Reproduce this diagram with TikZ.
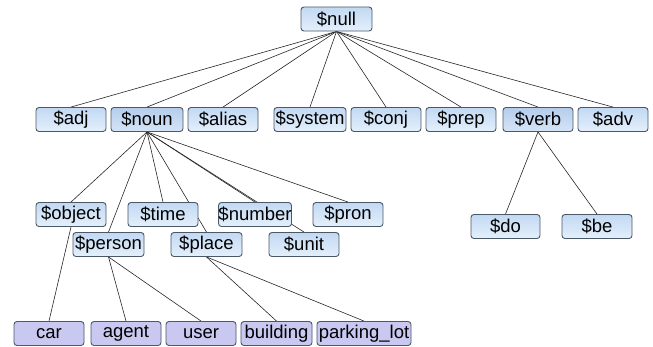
\documentclass[tikz,border=0pt]{standalone}
\usepackage{fontspec}
\setmainfont{Liberation Sans}
\usetikzlibrary{backgrounds}
\definecolor{bordc}{HTML}{4A5868}
\definecolor{bluetop}{HTML}{C2D9F3}
\definecolor{bluebot}{HTML}{E4EFFB}
\definecolor{darktop}{HTML}{B4CDEC}
\definecolor{darkbot}{HTML}{D6E5F7}
\definecolor{leaffill}{HTML}{C8C8F0}
\tikzset{
  box/.style={draw=bordc, line width=0.9pt, rounded corners=3pt,
    top color=bluetop, bottom color=bluebot,
    minimum height=24pt, inner sep=0pt,
    font=\fontsize{18.5}{19}\selectfont, text=black},
  hibox/.style={box, top color=darktop, bottom color=darkbot},
  leafbox/.style={box, fill=leaffill, top color=leaffill, bottom color=leaffill},
  edge/.style={draw=black!85, line width=0.6pt}
}
\begin{document}
\begin{tikzpicture}[x=1pt,y=-1pt]
\useasboundingbox (0,0) rectangle (653,346);
% root
\node[box, minimum width=71pt] (null) at (336.5,19) {\$null};
% level 1
\node[box, minimum width=70pt] (adj) at (71,119.5) {\$adj};
\node[hibox, minimum width=72pt] (noun) at (147,119.5) {\$noun};
\node[box, minimum width=70pt] (alias) at (223,119.5) {\$alias};
\node[box, minimum width=72pt] (system) at (310,119.5) {\$system};
\node[box, minimum width=70pt] (conj) at (386,119.5) {\$conj};
\node[box, minimum width=70pt] (prep) at (461,119.5) {\$prep};
\node[hibox, minimum width=70pt] (verb) at (538,119.5) {\$verb};
\node[box, minimum width=70pt] (adv) at (613,119.5) {\$adv};
% level 2 (noun)
\node[box, minimum width=70pt] (object) at (71,214.5) {\$object};
\node[box, minimum width=70pt] (time) at (163,214.5) {\$time};
\node[box, minimum width=70pt] (number) at (255,214.5) {\$number};
\node[box, minimum width=70pt] (pron) at (348,214.5) {\$pron};
\node[box, minimum width=71pt] (person) at (108.5,244.5) {\$person};
\node[box, minimum width=71pt] (place) at (206.5,244.5) {\$place};
\node[box, minimum width=70pt] (unit) at (304,244.5) {\$unit};
% level 2 (verb)
\node[box, minimum width=69pt] (do) at (505.5,226.5) {\$do};
\node[box, minimum width=70pt] (be) at (597,226.5) {\$be};
% leaves
\node[leafbox, minimum width=70pt] (car) at (49,333.5) {car};
\node[leafbox, minimum width=70pt] (agent) at (126,333.5) {agent};
\node[leafbox, minimum width=70pt] (user) at (201,333.5) {user};
\node[leafbox, minimum width=71pt] (building) at (276.5,333.5) {building};
\node[leafbox, minimum width=94pt] (parking) at (364,333.5) {parking\_lot};
% edges
\begin{pgfonlayer}{background}
\foreach \c in {adj,noun,alias,system,conj,prep,verb,adv}
  \draw[edge] (null.south) -- (\c.north);
\foreach \c in {object,person,time,place,number,unit,pron}
  \draw[edge] (noun.south) -- (\c.north);
\draw[edge] (verb.south) -- (do.north);
\draw[edge] (verb.south) -- (be.north);
\draw[edge] (object.south) -- (car.north);
\draw[edge] (person.south) -- (agent.north);
\draw[edge] (person.south) -- (user.north);
\draw[edge] (place.south) -- (building.north);
\draw[edge] (place.south) -- (parking.north);
\end{pgfonlayer}
\end{tikzpicture}
\end{document}
